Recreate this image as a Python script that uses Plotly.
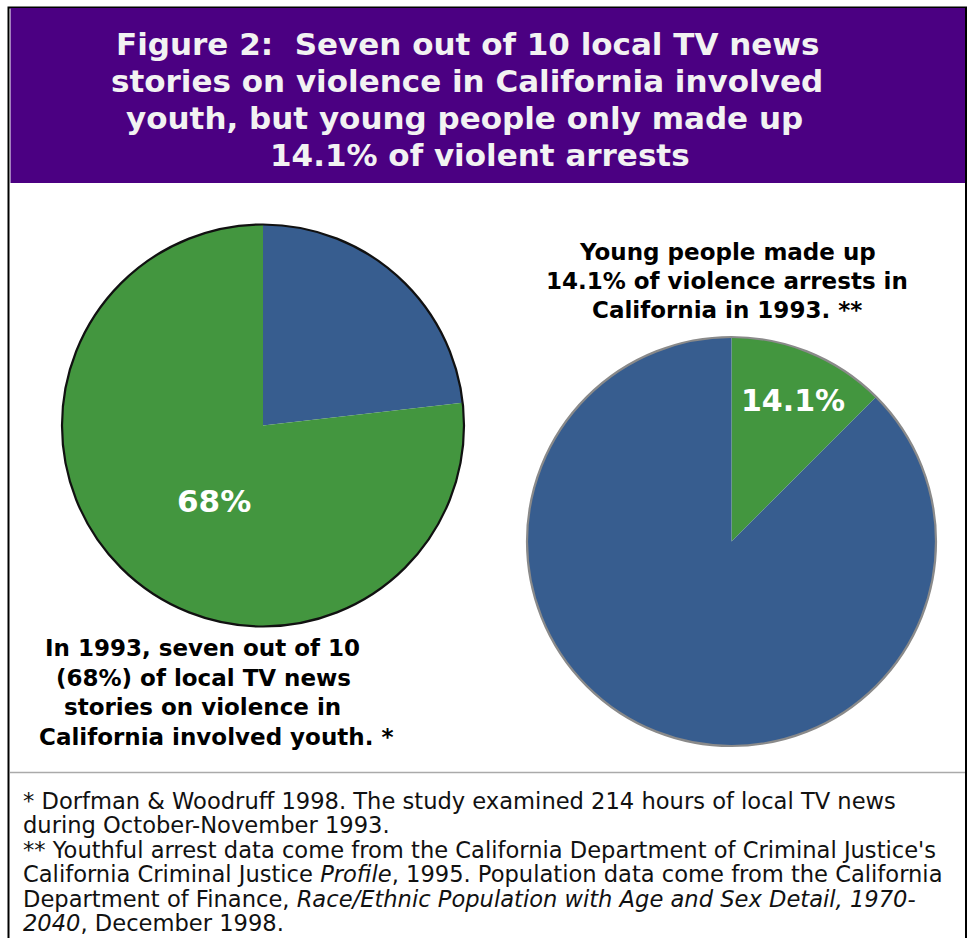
import plotly.graph_objects as go

W, H = 970, 938

# ---- data ----
left_labels = ["Other stories", "Stories involving youth"]
left_values = [23.2, 76.8]          # wedge sizes as drawn in the picture
left_label_text = "68%"
right_labels = ["Youth arrests", "Other arrests"]
right_values = [12.5, 87.5]         # wedge sizes as drawn in the picture
right_label_text = "14.1%"

title_lines = [
    "Figure 2:  Seven out of 10 local TV news",
    "stories on violence in California involved",
    "youth, but young people only made up",
    "14.1% of violent arrests",
]
left_caption = [
    "In 1993, seven out of 10",
    "(68%) of local TV news",
    "stories on violence in",
    "California involved youth. *",
]
right_caption = [
    "Young people made up",
    "14.1% of violence arrests in",
    "California in 1993. **",
]
footnotes = [
    "* Dorfman &amp; Woodruff 1998. The study examined 214 hours of local TV news",
    "during October-November 1993.",
    "** Youthful arrest data come from the California Department of Criminal Justice's",
    "California Criminal Justice <i>Profile</i>, 1995. Population data come from the California",
    "Department of Finance, <i>Race/Ethnic Population with Age and Sex Detail, 1970-</i>",
    "<i>2040</i>, December 1998.",
]

BLUE = "#375D8F"
GREEN = "#43963F"
PURPLE = "#4B0082"
BOLD = "DejaVu Sans"


def fx(x):
    return x / W


def fy(y):
    return 1 - y / H


def pie_domain(cx, cy, r):
    return dict(x=[fx(cx - r), fx(cx + r)], y=[fy(cy + r), fy(cy - r)])


L = (263, 425.5, 201)
R = (731.5, 541.5, 204.5)

fig = go.Figure()
fig.add_trace(go.Pie(
    labels=left_labels, values=left_values, sort=False, direction="clockwise",
    rotation=0, marker=dict(colors=[BLUE, GREEN], line=dict(width=0)),
    textinfo="none", hoverinfo="label+percent", showlegend=False,
    domain=pie_domain(*L),
))
fig.add_trace(go.Pie(
    labels=right_labels, values=right_values, sort=False, direction="clockwise",
    rotation=0, marker=dict(colors=[GREEN, BLUE], line=dict(width=0)),
    textinfo="none", hoverinfo="label+percent", showlegend=False,
    domain=pie_domain(*R),
))

shapes = []
# outer frame
shapes.append(dict(type="rect", xref="paper", yref="paper", x0=fx(8.5), x1=fx(966), y0=fy(942), y1=fy(7.5),
                   line=dict(color="black", width=2), fillcolor="rgba(0,0,0,0)", layer="below"))
# purple header
shapes.append(dict(type="rect", xref="paper", yref="paper", x0=fx(10.5), x1=fx(965), y0=fy(183), y1=fy(8),
                   line=dict(width=0), fillcolor=PURPLE, layer="below"))
# separator line
shapes.append(dict(type="line", xref="paper", yref="paper", x0=fx(10), x1=fx(965), y0=fy(772.5), y1=fy(772.5),
                   line=dict(color="#aaaaaa", width=1.5)))
# pie outlines
for (cx, cy, r), col in [(L, "#111111"), (R, "#8a8a8a")]:
    shapes.append(dict(type="circle", xref="paper", yref="paper",
                       x0=fx(cx - r), x1=fx(cx + r), y0=fy(cy + r), y1=fy(cy - r),
                       line=dict(color=col, width=2.2), fillcolor="rgba(0,0,0,0)", layer="above"))

ann = []
title_y = [44, 81, 118, 155]
title_x = [467, 467, 464, 480]
for t, x, y in zip(title_lines, title_x, title_y):
    ann.append(dict(text=t, x=fx(x), y=fy(y), xref="paper", yref="paper", showarrow=False,
                    xanchor="center", yanchor="middle",
                    font=dict(family=BOLD, size=31, color="#F2F2F2", weight="bold")))

left_cx = [202, 203, 202, 216]
for i, t in enumerate(left_caption):
    ann.append(dict(text=t, x=fx(left_cx[i]), y=fy(648 + 29.7 * i), xref="paper", yref="paper", showarrow=False,
                    xanchor="center", yanchor="middle",
                    font=dict(family=BOLD, size=23, color="black", weight="bold")))
for i, t in enumerate(right_caption):
    ann.append(dict(text=t, x=fx(727), y=fy(252 + 29 * i), xref="paper", yref="paper", showarrow=False,
                    xanchor="center", yanchor="middle",
                    font=dict(family=BOLD, size=23, color="black", weight="bold")))

ann.append(dict(text=left_label_text, x=fx(214), y=fy(501), xref="paper", yref="paper", showarrow=False,
                xanchor="center", yanchor="middle",
                font=dict(family=BOLD, size=31, color="white", weight="bold")))
ann.append(dict(text=right_label_text, x=fx(793), y=fy(400), xref="paper", yref="paper", showarrow=False,
                xanchor="center", yanchor="middle",
                font=dict(family=BOLD, size=30, color="white", weight="bold")))

for i, t in enumerate(footnotes):
    ann.append(dict(text=t, x=fx(21), y=fy(801 + 24.4 * i), xref="paper", yref="paper", showarrow=False,
                    xanchor="left", yanchor="middle",
                    font=dict(family="DejaVu Sans", size=22.6, color="#111111")))

fig.update_layout(
    width=W, height=H, margin=dict(l=0, r=0, t=0, b=0),
    paper_bgcolor="white", plot_bgcolor="white",
    shapes=shapes, annotations=ann, showlegend=False,
)

fig.write_html("out.html", config={"displayModeBar": False},
               post_script="document.body.style.margin='0px';document.body.style.overflow='hidden';")
